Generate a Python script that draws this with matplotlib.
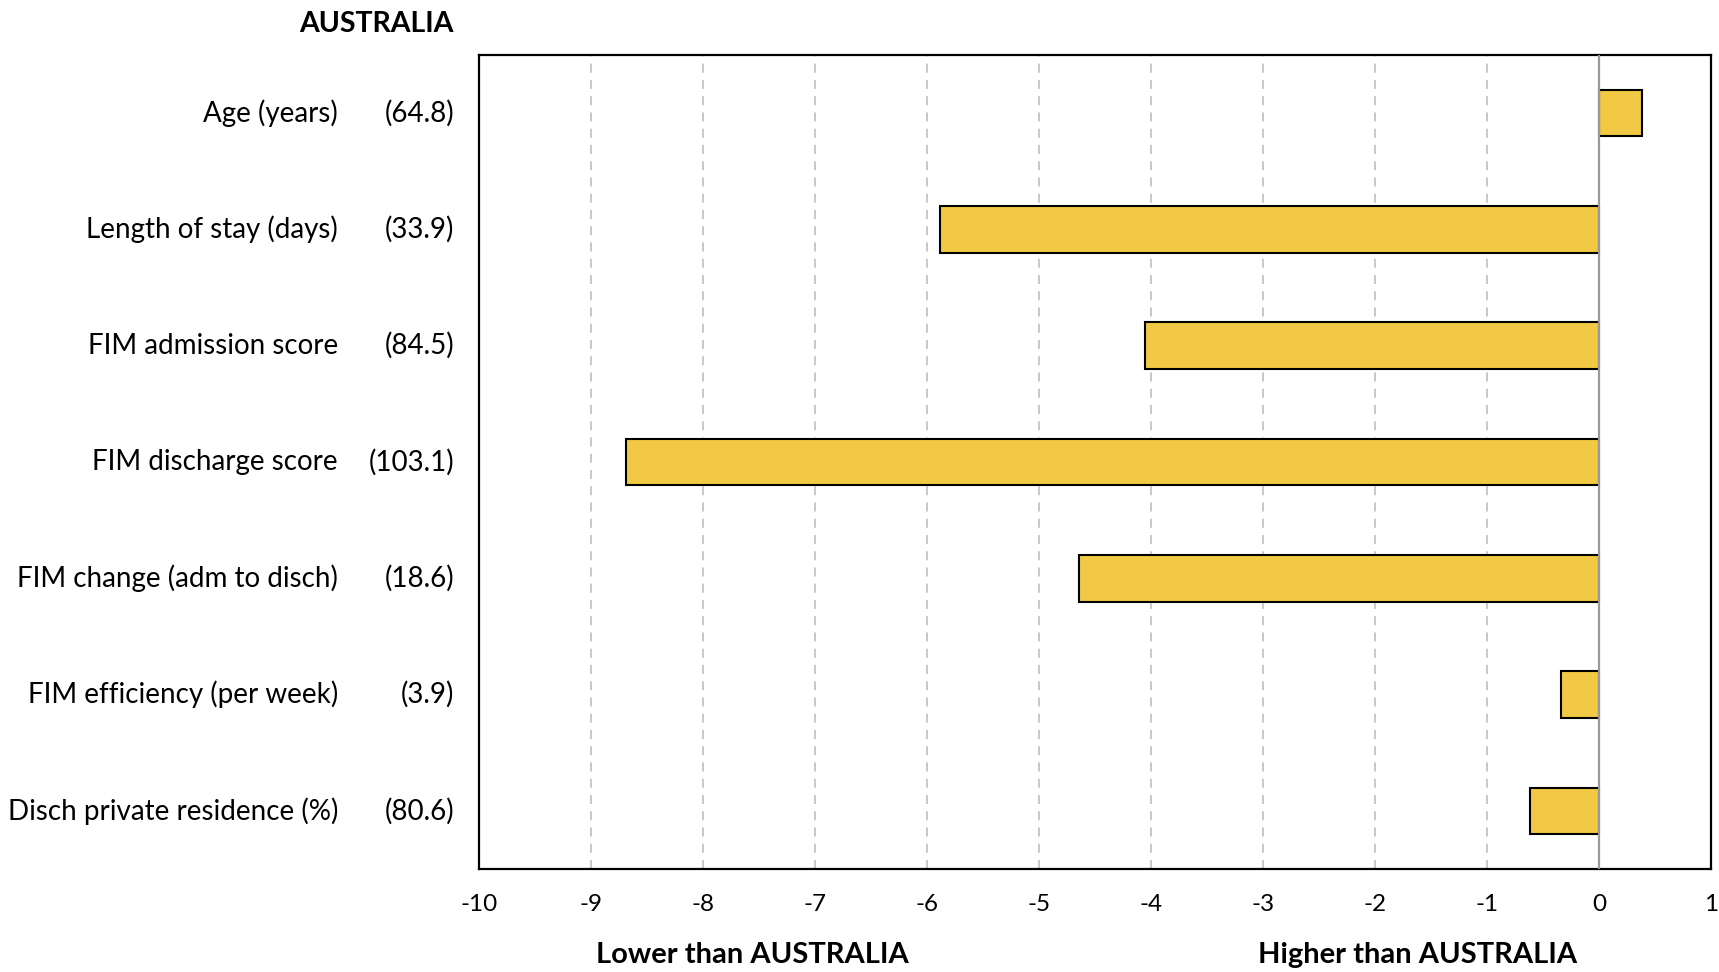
import matplotlib.pyplot as plt

# data
measures = ['Age (years)', 'Length of stay (days)', 'FIM admission score',
            'FIM discharge score', 'FIM change (adm to disch)',
            'FIM efficiency (per week)', 'Disch private residence (%)']
national = ['(64.8)', '(33.9)', '(84.5)', '(103.1)', '(18.6)', '(3.9)', '(80.6)']
diffs = [0.38, -5.88, -4.05, -8.69, -4.64, -0.34, -0.62]
xticks = list(range(-10, 2))

plt.rcParams['font.family'] = ['Lato', 'DejaVu Sans']

fig = plt.figure(figsize=(17.19, 9.72), dpi=100)
ax = fig.add_axes([479 / 1719, 1 - 869 / 972, 1232 / 1719, 814 / 972])

ypos = list(range(len(measures)))
ax.barh(ypos, diffs, height=0.4, color='#F2C944', edgecolor='black', linewidth=1.5, zorder=3)

ax.set_xlim(-10, 1)
ax.set_ylim(len(measures) - 0.5, -0.5)
ax.set_xticks(xticks)
ax.set_xticklabels([str(t) for t in xticks], fontsize=17.5)
ax.set_yticks([])
ax.tick_params(axis='x', length=0, pad=18)

for t in xticks[1:-2]:
    ax.axvline(t, color='#c4c4c4', linewidth=1.3, linestyle=(0, (5, 4)), zorder=1)
ax.axvline(0, color='#999999', linewidth=1.6, zorder=4)

for sp in ax.spines.values():
    sp.set_color('black')
    sp.set_linewidth(1.6)

tr = ax.get_yaxis_transform()
for y, name, val in zip(ypos, measures, national):
    ax.text(-0.1144, y, name, transform=tr, ha='right', va='center', fontsize=20)
    ax.text(-0.020, y, val, transform=tr, ha='right', va='center', fontsize=20)

fig.text(454 / 1719, 1 - 24 / 972, 'AUSTRALIA', ha='right', va='center',
         fontsize=20.5, fontweight='bold')
fig.text(752 / 1719, 1 - 955 / 972, 'Lower than AUSTRALIA', ha='center', va='center',
         fontsize=21, fontweight='bold')
fig.text(1418 / 1719, 1 - 955 / 972, 'Higher than AUSTRALIA', ha='center', va='center',
         fontsize=21, fontweight='bold')

fig.savefig('out.png', dpi=100)
